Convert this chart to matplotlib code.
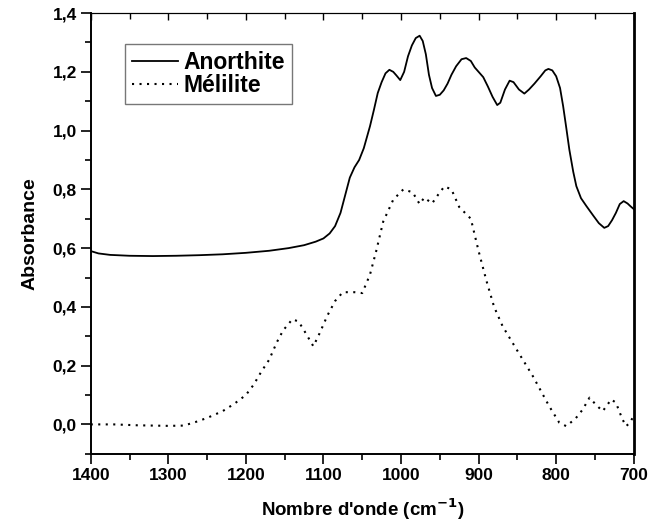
import numpy as np
import matplotlib
matplotlib.use('Agg')
import matplotlib.pyplot as plt
from matplotlib.ticker import MultipleLocator, FuncFormatter

# nombre d'onde (cm-1) et absorbance
nu_anorthite = [1400, 1390, 1375, 1350, 1320, 1290, 1260, 1230, 1200, 1170, 1145,
                1125, 1110, 1100, 1092, 1085, 1078, 1072, 1066, 1060, 1054, 1048,
                1040, 1035, 1030, 1025, 1020, 1015, 1010, 1006, 1001, 996, 991,
                986, 981, 976, 972, 968, 964, 960, 955, 950, 945, 940, 935, 929,
                922, 916, 910, 905, 900, 894, 888, 882, 876, 872, 866, 860, 855,
                848, 841, 835, 828, 820, 814, 810, 805, 800, 795, 791, 787, 783,
                778, 774, 768, 761, 752, 745, 738, 733, 728, 723, 718, 713, 708,
                704, 700]
abs_anorthite = [0.590, 0.582, 0.577, 0.574, 0.573, 0.574, 0.576, 0.579, 0.584, 0.591, 0.600,
                 0.610, 0.622, 0.633, 0.650, 0.675, 0.720, 0.780, 0.840, 0.875, 0.900, 0.940,
                 1.015, 1.070, 1.128, 1.165, 1.195, 1.207, 1.200, 1.188, 1.172, 1.200, 1.253,
                 1.290, 1.315, 1.323, 1.305, 1.260, 1.190, 1.145, 1.118, 1.122, 1.137, 1.160, 1.190, 1.219,
                 1.243, 1.247, 1.237, 1.215, 1.200, 1.182, 1.150, 1.115, 1.087, 1.095, 1.140, 1.170, 1.165,
                 1.140, 1.126, 1.140, 1.160, 1.185, 1.205, 1.210, 1.205, 1.185, 1.145, 1.083, 1.010, 0.935,
                 0.860, 0.811, 0.770, 0.743, 0.710, 0.685, 0.669, 0.675, 0.695, 0.720, 0.750, 0.760, 0.752,
                 0.742, 0.733]

nu_melilite = [1400, 1370, 1340, 1300, 1280, 1265, 1250, 1230, 1215, 1200, 1190,
               1180, 1170, 1160, 1152, 1140, 1132, 1125, 1113, 1105, 1095, 1085,
               1075, 1060, 1050, 1040, 1032, 1023, 1010, 997, 985, 976, 970, 960,
               950, 944, 935, 925, 910, 900, 890, 880, 869, 851, 830, 809, 796,
               787, 775, 766, 757, 748, 740, 729, 723, 715, 710, 705, 700]
abs_melilite = [0.000, 0.000, -0.003, -0.005, -0.004, 0.008, 0.022, 0.045, 0.070, 0.100, 0.135,
                0.180, 0.220, 0.280, 0.320, 0.358, 0.350, 0.320, 0.266, 0.310, 0.370, 0.420,
                0.450, 0.450, 0.447, 0.510, 0.590, 0.690, 0.765, 0.800, 0.790, 0.750, 0.772, 0.752,
                0.790, 0.810, 0.800, 0.740, 0.700, 0.590, 0.490, 0.400, 0.334, 0.255, 0.164, 0.062, 0.006,
                -0.006, 0.020, 0.050, 0.091, 0.065, 0.045, 0.085, 0.074, 0.020, -0.006, 0.005, 0.030]

plt.rcParams['font.family'] = ['Liberation Sans', 'DejaVu Sans']
plt.rcParams['font.weight'] = 'bold'

fig = plt.figure(figsize=(6.48, 5.24), dpi=100)
ax = fig.add_axes([0.140, 0.134, 0.838, 0.841])

ax.plot(nu_anorthite, abs_anorthite, color='black', lw=1.3, label='Anorthite')
ax.plot(nu_melilite, abs_melilite, color='black', lw=1.5, linestyle=(0, (1, 2.6)), label='Mélilite')

ax.set_xlim(1400, 700)
ax.set_ylim(-0.1, 1.4)

ax.xaxis.set_major_locator(MultipleLocator(100))
ax.xaxis.set_minor_locator(MultipleLocator(50))
ax.yaxis.set_major_locator(MultipleLocator(0.2))
ax.yaxis.set_minor_locator(MultipleLocator(0.1))
ax.yaxis.set_major_formatter(FuncFormatter(lambda v, p: ('%.1f' % v).replace('.', ',')))

ax.tick_params(which='major', direction='out', length=7, width=1.2, labelsize=12.5, pad=3)
ax.tick_params(which='minor', direction='out', length=4, width=1.2)
ax.tick_params(top=False, right=False)

top = ax.secondary_xaxis('top')
top.xaxis.set_major_locator(MultipleLocator(100))
top.xaxis.set_minor_locator(MultipleLocator(50))
top.tick_params(which='both', direction='in', labeltop=False, width=1)
top.tick_params(which='major', length=5)
top.tick_params(which='minor', length=4)
top.spines['top'].set_linewidth(0.8)

ax.spines['left'].set_linewidth(1.4)
ax.spines['bottom'].set_linewidth(1.4)
ax.spines['right'].set_linewidth(2.0)
ax.spines['top'].set_linewidth(0.8)

ax.set_xlabel("Nombre d'onde (cm$^{\\mathbf{-1}}$)", fontsize=13.5, fontweight='bold', labelpad=10)
ax.set_ylabel('Absorbance', fontsize=14, fontweight='bold', labelpad=10)

leg = ax.legend(loc='upper left', bbox_to_anchor=(0.064, 0.93), borderaxespad=0,
                fancybox=False, edgecolor='#555555', fontsize=16.5, handlelength=2.0,
                handletextpad=0.25, borderpad=0.3, labelspacing=0.0)
leg.get_frame().set_linewidth(1.0)
for t in leg.get_texts():
    t.set_fontweight('bold')

fig.savefig('out.png', dpi=100)
